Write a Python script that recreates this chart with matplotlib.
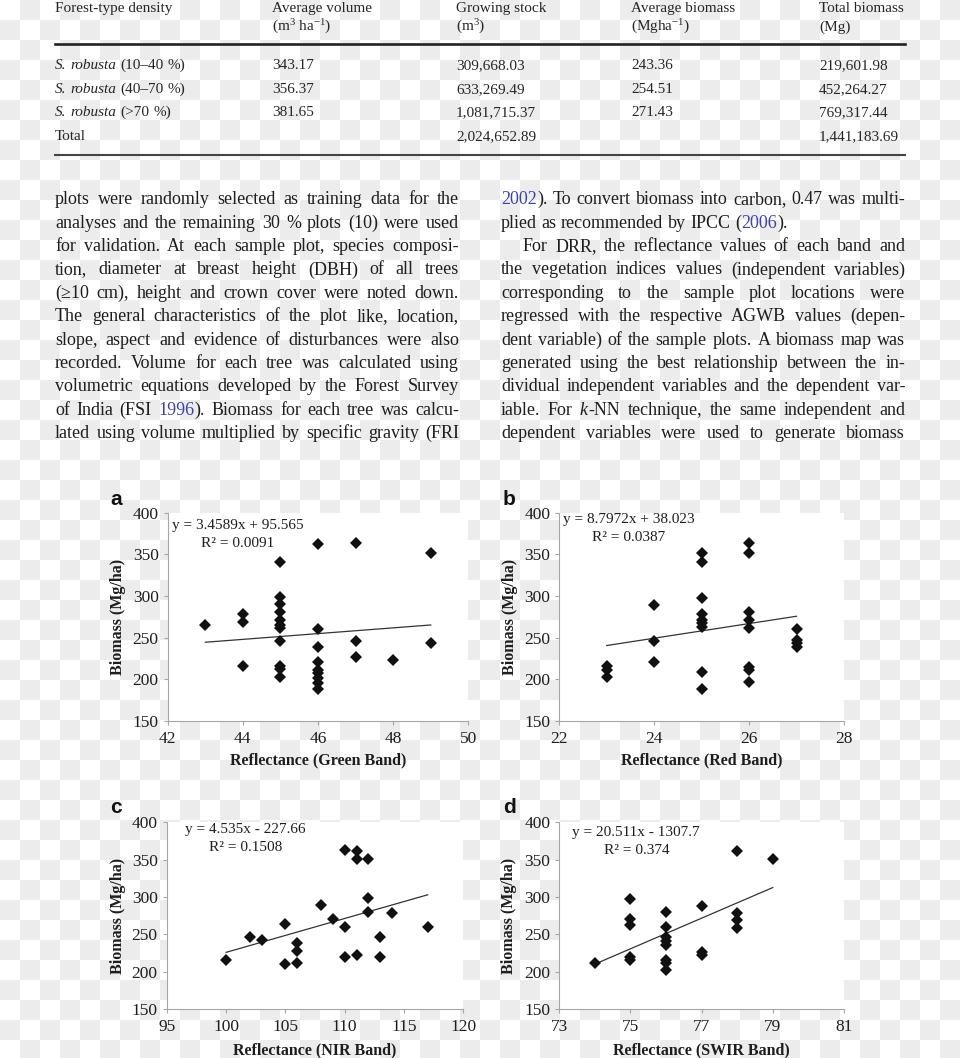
import re
import numpy as np
import matplotlib.pyplot as plt
from matplotlib.lines import Line2D

plt.rcParams['font.family'] = ['Liberation Serif', 'DejaVu Serif']
plt.rcParams['mathtext.fontset'] = 'custom'
plt.rcParams['mathtext.rm'] = 'Liberation Serif'
plt.rcParams['mathtext.it'] = 'Liberation Serif:italic'

W, H = 960, 1058
INK = '#1e1e1e'
LINK = '#3b44a3'

# ---- table ----
head_top = ["Forest-type density", "Average volume", "Growing stock",
            "Average biomass", "Total biomass"]
head_unit = ["", r"(m$^3$ ha$^{-1}$)", r"(m$^3$)", r"(Mgha$^{-1}$)", "(Mg)"]
density = ["<S.> <robusta> (10–40 %)", "<S.> <robusta> (40–70 %)",
           "<S.> <robusta> (>70 %)", "Total"]
avg_volume = ["343.17", "356.37", "381.65", ""]
growing_stock = ["309,668.03", "633,269.49", "1,081,715.37", "2,024,652.89"]
avg_biomass = ["243.36", "254.51", "271.43", ""]
total_biomass = ["219,601.98", "452,264.27", "769,317.44", "1,441,183.69"]

# ---- body text ({..} = link colour, <..> = italic) ----
left_lines = [
    "plots were randomly selected as training data for the",
    "analyses and the remaining 30 % plots (10) were used",
    "for validation. At each sample plot, species composi-",
    "tion, diameter at breast height (DBH) of all trees",
    "(≥10 cm), height and crown cover were noted down.",
    "The general characteristics of the plot like, location,",
    "slope, aspect and evidence of disturbances were also",
    "recorded. Volume for each tree was calculated using",
    "volumetric equations developed by the Forest Survey",
    "of India (FSI {1996}). Biomass for each tree was calcu-",
    "lated using volume multiplied by specific gravity (FRI",
]
right_lines = [
    "{2002}). To convert biomass into carbon, 0.47 was multi-",
    "plied as recommended by IPCC ({2006}).",
    "For DRR, the reflectance values of each band and",
    "the vegetation indices values (independent variables)",
    "corresponding to the sample plot locations were",
    "regressed with the respective AGWB values (depen-",
    "dent variable) of the sample plots. A biomass map was",
    "generated using the best relationship between the in-",
    "dividual independent variables and the dependent var-",
    "iable. For <k>-NN technique, the same independent and",
    "dependent variables were used to generate biomass",
]

# ---- scatter data ----
green_x = [43, 44, 44, 44,
           45, 45, 45, 45, 45, 45, 45, 45, 45, 45, 45,
           46, 46, 46, 46, 46, 46, 46, 46, 46,
           47, 47, 47, 48, 49, 49]
green_y = [265, 278, 269, 216,
           341, 299, 290, 281, 271, 265, 261, 246, 216, 212, 203,
           362, 260, 238, 221, 211, 207, 201, 195, 188,
           364, 246, 227, 223, 351, 243]

red_x = [23, 23, 23, 24, 24, 24,
         25, 25, 25, 25, 25, 25, 25, 25, 25,
         26, 26, 26, 26, 26, 26, 26, 26,
         27, 27, 27, 27]
red_y = [216, 211, 202, 289, 246, 220,
         351, 341, 298, 278, 271, 267, 263, 209, 188,
         364, 351, 281, 271, 261, 215, 211, 196,
         260, 247, 243, 238]

nir_x = [100, 102, 103, 105, 105, 106, 106, 106, 108, 109, 110, 110,
         110, 111, 111, 111, 112, 112, 112, 113, 113, 114, 117]
nir_y = [215, 246, 243, 264, 210, 238, 227, 212, 289, 270, 363, 260,
         220, 362, 351, 222, 351, 298, 280, 246, 219, 278, 260]

swir_x = [74, 75, 75, 75, 75, 75,
          76, 76, 76, 76, 76, 76, 76, 76,
          77, 77, 77, 78, 78, 78, 78, 79]
swir_y = [211, 297, 270, 263, 220, 215,
          280, 260, 246, 241, 236, 215, 211, 202,
          288, 226, 222, 361, 278, 269, 259, 351]

slopes = [3.4589, 8.7972, 4.535, 20.511]
intercepts = [95.565, 38.023, -227.66, -1307.7]
equations = ["y = 3.4589x + 95.565", "y = 8.7972x + 38.023",
             "y = 4.535x - 227.66", "y = 20.511x - 1307.7"]
r2_labels = ["R² = 0.0091", "R² = 0.0387", "R² = 0.1508", "R² = 0.374"]
band_labels = ["Reflectance (Green Band)", "Reflectance (Red Band)",
               "Reflectance (NIR Band)", "Reflectance (SWIR Band)"]
x_ticks = [[42, 44, 46, 48, 50], [22, 24, 26, 28],
           [95, 100, 105, 110, 115, 120], [73, 75, 77, 79, 81]]


def fx(x):
    return x / W


def fy(y):
    return 1 - y / H


fig = plt.figure(figsize=(W / 100, H / 100), dpi=100)
rend = fig.canvas.get_renderer()

# transparent-png checker behind the page
yy, xx = np.indices((H, W))
checker = np.where((xx // 20 + yy // 20) % 2 == 1, 0.925, 1.0)
fig.figimage(checker, cmap='gray', vmin=0, vmax=1, zorder=-10)

TOKEN = re.compile(r'\{([^}]*)\}|<([^>]*)>|([^{<]+)')


def split_words(line, color):
    words = []
    for w in line.split(' '):
        segs = []
        for m in TOKEN.finditer(w):
            if m.group(1) is not None:
                segs.append((m.group(1), LINK, 'normal'))
            elif m.group(2) is not None:
                segs.append((m.group(2), color, 'italic'))
            else:
                segs.append((m.group(3), color, 'normal'))
        words.append(segs)
    return words


def text_width(s, size):
    t = fig.text(0, 0, s, fontsize=size)
    w = t.get_window_extent(rend).width
    t.remove()
    return w


def put_line(line, x0, x1, base, size, justify=True, color=INK):
    # one word per Text, spread over [x0, x1] when justified
    words = split_words(line, color)
    placed, widths = [], []
    for segs in words:
        ws = []
        for s, c, st in segs:
            t = fig.text(0, 0, s, fontsize=size, color=c, style=st, va='baseline')
            ws.append((t, t.get_window_extent(rend).width))
        placed.append(ws)
        widths.append(sum(w for _, w in ws) + 0.5 * (len(ws) - 1))
    gap = text_width('x x', size) - text_width('xx', size)
    if justify and len(words) > 1:
        gap = (x1 - x0 - sum(widths)) / (len(words) - 1)
    x = x0
    for ws in placed:
        for t, w in ws:
            t.set_position((fx(x), fy(base)))
            x += w + 0.5
        x += gap - 0.5


# ---- table ----
col_x = [55, 272, 456, 631, 819]
tcol = '#262626'
for i in range(5):
    fig.text(fx(col_x[i]), fy(12), head_top[i], fontsize=11, color=tcol, va='baseline')
    fig.text(fx(col_x[i]), fy(31), head_unit[i], fontsize=11, color=tcol, va='baseline')
row_base = [69, 93, 116, 140]
columns = [density, avg_volume, growing_stock, avg_biomass, total_biomass]
for j, base in enumerate(row_base):
    for i, col in enumerate(columns):
        if col[j]:
            put_line(col[j], col_x[i], 0, base, 11, justify=False, color=tcol)
fig.add_artist(Line2D([fx(55), fx(905)], [fy(43.5), fy(43.5)], color='#222222', lw=1.9))
fig.add_artist(Line2D([fx(55), fx(905)], [fy(154.5), fy(154.5)], color='#444444', lw=1.5))

# ---- two text columns ----
for k, line in enumerate(left_lines):
    put_line(line, 55, 459, 204.3 + 23.4 * k, 13)
for k, line in enumerate(right_lines):
    x0 = 523 if k == 2 else 501
    put_line(line, x0, 905, 204.3 + 23.4 * k, 13, justify=(k != 1))

# ---- scatter panels ----
xs_all = [green_x, red_x, nir_x, swir_x]
ys_all = [green_y, red_y, nir_y, swir_y]
letters = ['a', 'b', 'c', 'd']
boxes = [(167.7, 512.7, 468.3, 720.7), (559.3, 512.7, 844, 720.7),
         (166.7, 822.3, 463.3, 1009), (559.3, 822.3, 844, 1009)]
letter_pos = [(110, 505), (503, 505), (110, 813), (503, 813)]
eq_pos = [(171.7, 525), (562.7, 519.3), (185, 830), (571.7, 832.7)]
r2_pos = [(201, 543.3), (591.7, 537.3), (209, 847.7), (604.3, 850)]
xlab_y = [760, 760, 1050, 1050]
ylab_x = [117.5, 510, 117.5, 509]

for p in range(4):
    l, t, r, b = boxes[p]
    ax = fig.add_axes([fx(l), fy(b), (r - l) / W, (b - t) / H])
    ax.set_facecolor('white')
    ax.plot(xs_all[p], ys_all[p], linestyle='none', marker='D', ms=6.5,
            mew=0, color='#111111', zorder=3)
    xl = np.array([min(xs_all[p]), max(xs_all[p])])
    ax.plot(xl, slopes[p] * xl + intercepts[p], color='#333333', lw=0.9, zorder=2)
    ax.set_xlim(x_ticks[p][0], x_ticks[p][-1])
    ax.set_ylim(150, 400)
    ax.set_xticks(x_ticks[p])
    ax.set_yticks([150, 200, 250, 300, 350, 400])
    for s in ['top', 'right']:
        ax.spines[s].set_visible(False)
    for s in ['left', 'bottom']:
        ax.spines[s].set_color('#a6a6a6')
        ax.spines[s].set_linewidth(0.8)
    ax.tick_params(direction='out', length=3, width=0.8, color='#a6a6a6',
                   labelsize=12.5, labelcolor=INK)
    ax.tick_params(axis='x', pad=4.5)
    ax.tick_params(axis='y', pad=3.5)

    fig.text(fx(letter_pos[p][0]), fy(letter_pos[p][1]), letters[p],
             family='Liberation Sans', weight='bold', fontsize=15, color='#111111',
             va='baseline')
    fig.text(fx(eq_pos[p][0]), fy(eq_pos[p][1]), equations[p], fontsize=11,
             color=INK, va='center')
    fig.text(fx(r2_pos[p][0]), fy(r2_pos[p][1]), r2_labels[p], fontsize=11,
             color=INK, va='center')
    fig.text(fx((l + r) / 2), fy(xlab_y[p]), band_labels[p], fontsize=11.5,
             weight='bold', color=INK, ha='center', va='center')
    fig.text(fx(ylab_x[p]), fy((t + b) / 2), 'Biomass (Mg/ha)', fontsize=11.5,
             weight='bold', color=INK, ha='center', va='center', rotation=90)

fig.savefig('out.png', dpi=100)
